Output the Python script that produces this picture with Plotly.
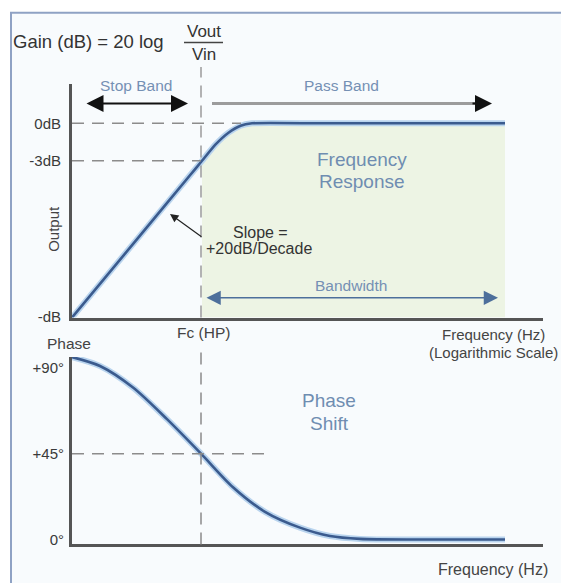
import plotly.graph_objects as go

# ---------------- data ----------------
# x: log10(f / Fc) in decades, Fc at 0
gain_logf = [-1.29, -0.6, -0.11, 0.01, 0.146, 0.275, 0.396, 0.51, 1.2, 3.04]
gain_db = [-15.55, -8.89, -4.16, -3.0, -1.69, -0.75, -0.19, 0.0, 0.0, 0.0]

phase_logf = [-1.29, -1.01, -0.68, -0.34, 0.0, 0.32, 0.64, 0.99, 1.29, 1.59, 2.2, 3.04]
phase_deg = [95.7, 91.0, 79.7, 63.1, 45.0, 27.4, 14.5, 6.2, 1.8, 0.3, 0.0, 0.0]

gain_tick_vals = [0, -3, -15.5]
gain_tick_text = ["0dB", "-3dB", "-dB"]
phase_tick_vals = [90, 45, 0]
phase_tick_text = ["+90\u00b0", "+45\u00b0", "0\u00b0"]

fc_logf = 0.0
gain_range = [-15.55, 3.16]
phase_range = [-2.6, 95.7]
logf_range = [-1.29, 3.42]

# ---------------- helpers ----------------
W, H = 561, 583
def X(px):
    return px / W
def Y(py):
    return 1 - py / H

FONT = "Arial, Liberation Sans, sans-serif"
DARK = "#3a3a3a"
BLUE_TXT = "#7590b4"
AXIS = "#555555"
DASH = "#8c8c8c"

fig = go.Figure()

# green pass-band fill under the gain curve (right of Fc)
fx = [x for x in gain_logf if x >= fc_logf]
fy = [y for x, y in zip(gain_logf, gain_db) if x >= fc_logf]
fig.add_trace(go.Scatter(
    x=fx + [fx[-1], fx[0]], y=fy + [gain_range[0], gain_range[0]],
    fill="toself", fillcolor="#edf4e4", line=dict(width=0), mode="lines",
    hoverinfo="skip", showlegend=False, xaxis="x", yaxis="y"))

# gain curve (glow + core)
for col, w in (("#b9d4ee", 6), ("#3b5b8e", 2.6)):
    fig.add_trace(go.Scatter(x=gain_logf, y=gain_db, mode="lines",
                             line=dict(color=col, width=w, shape="spline", smoothing=0.5),
                             showlegend=False, xaxis="x", yaxis="y"))
# phase curve
for col, w in (("#b9d4ee", 6), ("#3b5b8e", 2.6)):
    fig.add_trace(go.Scatter(x=phase_logf, y=phase_deg, mode="lines",
                             line=dict(color=col, width=w, shape="spline", smoothing=0.8),
                             showlegend=False, xaxis="x2", yaxis="y2"))

ax_common = dict(showgrid=False, zeroline=False, showline=True, linecolor=AXIS,
                 linewidth=3, ticks="", fixedrange=True)

fig.update_layout(
    width=W, height=H, margin=dict(l=0, r=0, t=0, b=0),
    paper_bgcolor="white", plot_bgcolor="rgba(0,0,0,0)",
    font=dict(family=FONT, color=DARK),
    xaxis=dict(domain=[X(72), X(543)], range=logf_range, showticklabels=False,
               anchor="y", **ax_common),
    yaxis=dict(domain=[Y(322), Y(85)], range=gain_range, tickvals=gain_tick_vals,
               ticktext=gain_tick_text, tickfont=dict(size=15, color=DARK),
               ticklabelstandoff=5, anchor="x", **ax_common),
    xaxis2=dict(domain=[X(72), X(543)], range=logf_range, showticklabels=False,
                anchor="y2", **ax_common),
    yaxis2=dict(domain=[Y(552), Y(362)], range=phase_range, tickvals=phase_tick_vals,
                ticktext=phase_tick_text, tickfont=dict(size=15, color=DARK),
                ticklabelstandoff=2, anchor="x2", **ax_common),
)

shapes = []
# framed background
shapes.append(dict(type="rect", xref="paper", yref="paper", x0=X(11), x1=X(575),
                   y0=Y(600), y1=Y(13), fillcolor="#f8fbfd",
                   line=dict(color="#8fa2c4", width=2), layer="below"))
dash = dict(color=DASH, width=1.5, dash="12px,8px")
# 0 dB and -3 dB guides
shapes.append(dict(type="line", xref="x", yref="y", x0=logf_range[0], x1=0.4,
                   y0=0, y1=0, line=dash, layer="above"))
shapes.append(dict(type="line", xref="x", yref="y", x0=logf_range[0], x1=fc_logf,
                   y0=-3, y1=-3, line=dash, layer="above"))
# +45 deg guide
shapes.append(dict(type="line", xref="x2", yref="y2", x0=logf_range[0], x1=0.69,
                   y0=45, y1=45, line=dash, layer="above"))
# Fc vertical guides
shapes.append(dict(type="line", xref="x", yref="paper", x0=fc_logf, x1=fc_logf,
                   y0=Y(322), y1=Y(68), line=dict(color="#9a9a9a", width=1.5, dash="12px,8px"),
                   layer="above"))
shapes.append(dict(type="line", xref="x2", yref="paper", x0=fc_logf, x1=fc_logf,
                   y0=Y(552), y1=Y(352), line=dict(color="#8a8a8a", width=1.5, dash="12px,8px"),
                   layer="above"))
# Pass band gray shaft
shapes.append(dict(type="line", xref="x", yref="y", x0=0.11, x1=2.8, y0=1.58, y1=1.58,
                   line=dict(color="#9c9c9c", width=3), layer="above"))
# fraction bar
shapes.append(dict(type="line", xref="paper", yref="paper", x0=X(184), x1=X(223),
                   y0=Y(43), y1=Y(43), line=dict(color="#444", width=1.5)))
fig.update_layout(shapes=shapes)

ann = []
def txt(t, px, py, size=15, color=DARK, **kw):
    ann.append(dict(text=t, x=X(px), y=Y(py), xref="paper", yref="paper",
                    showarrow=False, xanchor=kw.pop("xanchor", "center"),
                    yanchor="middle", font=dict(size=size, color=color, family=FONT), **kw))

txt("Gain (dB) = 20 log", 11, 42, size=18.5, color="#333", xanchor="left")
txt("Vout", 204, 32, size=17, color="#333")
txt("Vin", 204, 55, size=17, color="#333")
txt("Stop Band", 136, 87, size=15.5, color=BLUE_TXT)
txt("Pass Band", 341, 87, size=15.5, color=BLUE_TXT)
txt("Frequency", 362, 162, size=19, color="#6f8db1")
txt("Response", 362, 184, size=19, color="#6f8db1")
txt("Slope =", 260, 236, size=16, color="#333")
txt("+20dB/Decade", 259, 252, size=16, color="#333")
txt("Bandwidth", 351, 289, size=15.5, color=BLUE_TXT)
txt("Output", 54, 232, size=15, color="#444", textangle=-90)
txt("Fc (HP)", 203, 337, size=15.5, color="#444")
txt("Phase", 69, 348, size=15.5, color="#444")
txt("Frequency (Hz)", 493, 339, size=15, color="#444")
txt("(Logarithmic Scale)", 493, 357, size=15, color="#444")
txt("Phase", 329, 406, size=19, color="#6f8db1")
txt("Shift", 329, 429, size=19, color="#6f8db1")
txt("Frequency (Hz)", 493, 577, size=16, color="#444")

def arrow(x, y, axv, ayv, xr, yr, color, width, size, both=False):
    ann.append(dict(text="", x=x, y=y, ax=axv, ay=ayv, xref=xr, yref=yr,
                    axref=xr, ayref=yr, showarrow=True, arrowhead=2,
                    arrowside="end+start" if both else "end",
                    arrowsize=size, arrowwidth=width, arrowcolor=color))

arrow(-0.13, 1.58, -1.16, 1.58, "x", "y", "#111", 2, 1.7, both=True)   # Stop band
arrow(2.91, 1.58, 2.7, 1.58, "x", "y", "#111", 2, 1.7)                 # Pass band head
arrow(2.97, -13.97, 0.04, -13.97, "x", "y", "#4d6f9b", 1.5, 1.9, both=True)  # Bandwidth
arrow(-0.31, -7.26, 0.02, -9.16, "x", "y", "#222", 1.2, 1.4)            # Slope pointer

fig.update_layout(annotations=ann)

fig.write_html("out.html", config={"displayModeBar": False},
               post_script="document.body.style.margin='0';")
